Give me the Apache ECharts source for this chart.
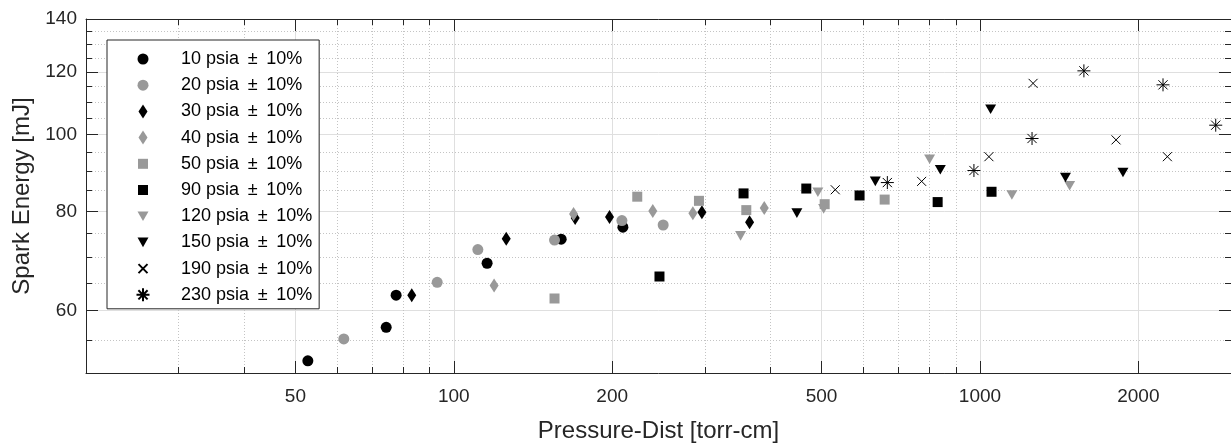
<!DOCTYPE html>
<html>
<head>
<meta charset="utf-8">
<script src="https://cdn.jsdelivr.net/npm/echarts@6/dist/echarts.min.js"></script>
<style>
html,body{margin:0;padding:0;background:#fff;}
#chart{width:1231px;height:443px;}
</style>
</head>
<body>
<div id="chart"></div>
<script>
// ---- tick values ----
const xMajorTicks = [50, 100, 200, 500, 1000, 2000];
const xMinorTicks = [30, 40, 60, 70, 80, 90, 300, 400, 600, 700, 800, 900];
const yMajorTicks = [60, 80, 100, 120, 140];
const yMinorTicks = [55, 65, 70, 75, 85, 90, 95, 105, 110, 115, 125, 130, 135];

// ---- series names ----
const seriesNames = [
  '10 psia ± 10%', '20 psia ± 10%', '30 psia ± 10%', '40 psia ± 10%', '50 psia ± 10%',
  '90 psia ± 10%', '120 psia ± 10%', '150 psia ± 10%', '190 psia ± 10%', '230 psia ± 10%'
];

// ---- data: [pressure-dist (torr-cm), spark energy (mJ)] ----
const p10 = [[52.8, 51.8], [74.4, 57.1], [77.7, 62.7], [115.7, 68.8], [160, 73.8], [209.6, 76.4]];
const p20 = [[61.8, 55.2], [93, 65.1], [111.1, 71.6], [155.4, 73.6], [208.7, 77.9], [250, 76.9]];
const p30 = [[83.2, 62.7], [125.8, 73.9], [170.1, 78.5], [197.7, 78.7], [296.2, 79.8], [364.9, 77.5]];
const p40 = [[119.3, 64.5], [168.9, 79.4], [238.9, 80.1], [284.7, 79.6], [389.1, 80.8]];
const p50 = [[155.4, 62.1], [223.2, 83.5], [292.4, 82.5], [359.7, 80.3], [506.9, 81.7], [659, 82.8]];
const p90 = [[246, 66.2], [355.4, 84.3], [467.7, 85.5], [590.5, 83.8], [831, 82.2], [1052, 84.7]];
const p120 = [[350.8, 74.5], [492, 84.6], [504.6, 80.6], [802.2, 93.1], [1150, 83.9], [1480.5, 86.2]];
const p150 = [[448.8, 79.6], [632.6, 87.3], [840.8, 90.3], [1047.8, 107.7], [1453.8, 88.3], [1870, 89.6]];
const p190 = [[530.9, 85.2], [774.8, 87.3], [1040, 93.8], [1261.7, 116.1], [1814, 98.5], [2271, 93.8]];
const p230 = [[666.8, 87.0], [974, 90.1], [1256, 98.9], [1576, 120.4], [2228, 115.6], [2806, 102.8]];

const seriesData = [p10, p20, p30, p40, p50, p90, p120, p150, p190, p230];

// ---- styles ----
const BLACK = '#000000';
const GRAY = '#999999';
const AX = '#262626';
// all marker paths live in a common 14x14 frame so plot and legend sizes agree
const FRAME = 'M0,0M14,14';
const circ = 'path://' + FRAME + 'M1.5,7A5.5,5.5,0,1,1,12.5,7A5.5,5.5,0,1,1,1.5,7Z';
const diam = 'path://' + FRAME + 'M7,0L11.5,7L7,14L2.5,7Z';
const sq = 'path://' + FRAME + 'M2,2L12,2L12,12L2,12Z';
const downTri = 'path://' + FRAME + 'M1.5,2.2L12.5,2.2L7,11.8Z';
const xMark = 'path://' + FRAME + 'M2.5,2.5L11.5,11.5M11.5,2.5L2.5,11.5';
const star = 'path://' + FRAME + 'M7,0.5L7,13.5M0.5,7L13.5,7M2.4,2.4L11.6,11.6M11.6,2.4L2.4,11.6';
const markerStyles = [
  {symbol: circ, color: BLACK},
  {symbol: circ, color: GRAY},
  {symbol: diam, color: BLACK},
  {symbol: diam, color: GRAY},
  {symbol: sq, color: GRAY},
  {symbol: sq, color: BLACK},
  {symbol: downTri, color: GRAY},
  {symbol: downTri, color: BLACK},
  {symbol: xMark, color: BLACK, stroke: true},
  {symbol: star, color: BLACK, stroke: true}
];

const FONT = 'Liberation Sans, Arial, Helvetica, sans-serif';
const fmt = v => String(v);

function xAxisDef(pos, ticks, major, withLabels) {
  return {
    type: 'log', logBase: 10, min: 20, max: 3000, position: pos,
    axisLine: {show: major, onZero: false, lineStyle: {color: AX, width: 1}},
    axisTick: {show: true, inside: true, length: major ? 12 : 6, customValues: ticks, lineStyle: {color: AX, width: 1}},
    axisLabel: withLabels ? {show: true, customValues: ticks, formatter: fmt, margin: 14, color: AX, fontSize: 19, fontFamily: FONT} : {show: false},
    splitLine: pos === 'bottom' ? {show: true, lineStyle: major ? {color: '#dfdfdf', width: 1, type: 'solid'} : {color: '#c4c4c4', width: 1, type: [1, 2]}} : {show: false},
    minorTick: {show: false}, minorSplitLine: {show: false}
  };
}
function yAxisDef(pos, ticks, major, withLabels) {
  return {
    type: 'log', logBase: 10, min: 50, max: 140, position: pos,
    axisLine: {show: major, onZero: false, lineStyle: {color: AX, width: 1}},
    axisTick: {show: true, inside: true, length: major ? 12 : 6, customValues: ticks, lineStyle: {color: AX, width: 1}},
    axisLabel: withLabels ? {show: true, customValues: ticks, formatter: fmt, margin: 9, color: AX, fontSize: 19, fontFamily: FONT} : {show: false},
    splitLine: pos === 'left' ? {show: true, lineStyle: major ? {color: '#dfdfdf', width: 1, type: 'solid'} : {color: '#c4c4c4', width: 1, type: [1, 2]}} : {show: false},
    minorTick: {show: false}, minorSplitLine: {show: false}
  };
}

const xAxes = [
  xAxisDef('bottom', xMajorTicks, true, true),
  xAxisDef('bottom', xMinorTicks, false, false),
  xAxisDef('top', xMajorTicks, true, false),
  xAxisDef('top', xMinorTicks, false, false)
];
Object.assign(xAxes[0], {
  name: 'Pressure-Dist [torr-cm]', nameLocation: 'middle', nameGap: 46,
  nameTextStyle: {color: AX, fontSize: 24, fontFamily: FONT}
});
const yAxes = [
  yAxisDef('left', yMajorTicks, true, true),
  yAxisDef('left', yMinorTicks, false, false),
  yAxisDef('right', yMajorTicks, true, false),
  yAxisDef('right', yMinorTicks, false, false)
];
Object.assign(yAxes[0], {
  name: 'Spark Energy [mJ]', nameLocation: 'middle', nameGap: 51,
  nameTextStyle: {color: AX, fontSize: 24, fontFamily: FONT}
});

const series = seriesData.map((d, i) => {
  const m = markerStyles[i];
  return {
    type: 'scatter', name: seriesNames[i], data: d,
    xAxisIndex: 0, yAxisIndex: 0,
    symbol: m.symbol, symbolSize: 14, symbolKeepAspect: true,
    itemStyle: m.stroke ? {color: m.color, borderColor: m.color, borderWidth: 1, opacity: 1}
                        : {color: m.color, borderWidth: 0, opacity: 1},
    emphasis: {disabled: true},
    z: 2 + i
  };
});

const chart = echarts.init(document.getElementById('chart'), null, {renderer: 'canvas'});
chart.setOption({
  animation: false,
  backgroundColor: '#ffffff',
  grid: {left: 86, right: 0, top: 19, bottom: 70, containLabel: false, outerBoundsMode: 'none'},
  xAxis: xAxes,
  yAxis: yAxes,
  legend: {
    show: true, orient: 'vertical', left: 107, top: 40,
    padding: [10, 7, 5, 28], itemGap: 8.2, itemWidth: 66, itemHeight: 14,
    backgroundColor: '#ffffff', borderColor: AX, borderWidth: 1, borderRadius: 0,
    textStyle: {color: '#000000', fontSize: 18, fontFamily: FONT},
    formatter: name => name.replace(' ± ', ' \u2009±\u2009 '),
    selectedMode: false,
    data: seriesNames
  },
  series: series
});
</script>
</body>
</html>
